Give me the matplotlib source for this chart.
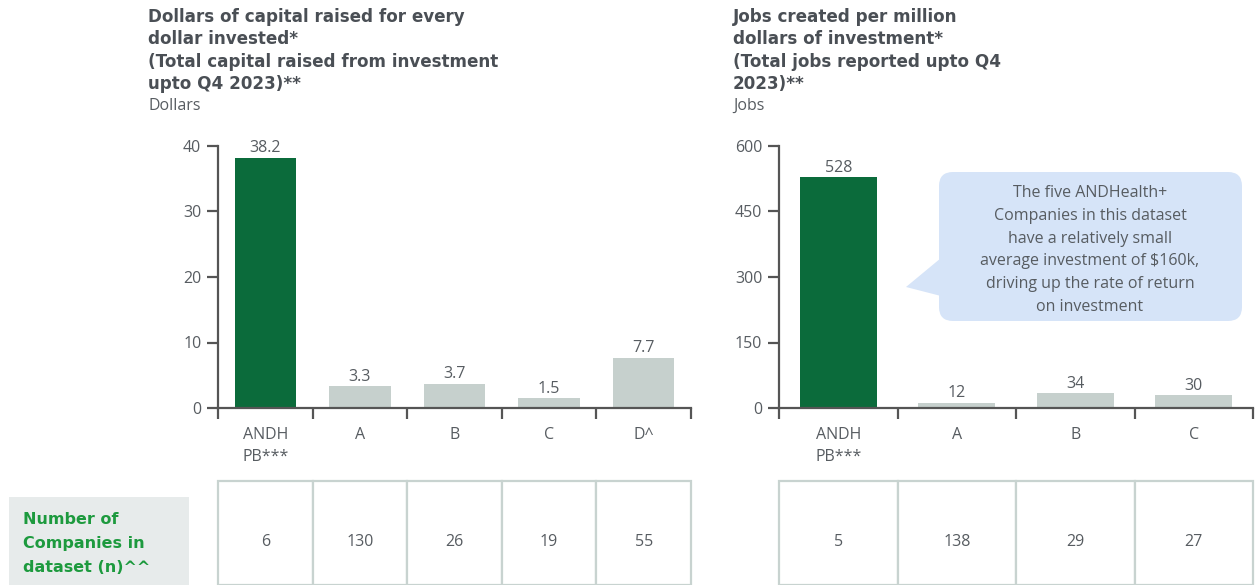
import numpy as np
import matplotlib.pyplot as plt
from matplotlib.patches import FancyBboxPatch, Polygon, Rectangle

# dados dos dois graficos
cats_left = ['ANDH\nPB***', 'A', 'B', 'C', 'D^']
vals_left = [38.2, 3.3, 3.7, 1.5, 7.7]
n_left = [6, 130, 26, 19, 55]

cats_right = ['ANDH\nPB***', 'A', 'B', 'C']
vals_right = [528, 12, 34, 30]
n_right = [5, 138, 29, 27]

title_left = ['Dollars of capital raised for every', 'dollar invested*',
              '(Total capital raised from investment', 'upto Q4 2023)**']
unit_left = 'Dollars'
title_right = ['Jobs created per million', 'dollars of investment*',
               '(Total jobs reported upto Q4', '2023)**']
unit_right = 'Jobs'
note = ['The five ANDHealth+', 'Companies in this dataset', 'have a relatively small',
        'average investment of $160k,', 'driving up the rate of return', 'on investment']
row_label = ['Number of', 'Companies in', 'dataset (n)^^']

GREEN = '#0b6b3b'
GREY_BAR = '#c6d0cd'
TXT = '#575c61'
SPINE = '#555555'
FS = 11.5
BOLD_FONT = ['DejaVu Sans']

plt.rcParams['font.family'] = ['Open Sans', 'DejaVu Sans']

W, H = 1255, 585
fig = plt.figure(figsize=(W / 100, H / 100), dpi=100)


def box(x0, x1, ytop, ybot):
    # pixel -> figure fraction
    return [x0 / W, 1 - ybot / H, (x1 - x0) / W, (ybot - ytop) / H]


def bar_panel(rect, cats, vals, ymax, yticks, fmt):
    ax = fig.add_axes(rect)
    x = np.arange(len(cats))
    colors = [GREEN] + [GREY_BAR] * (len(cats) - 1)
    ax.bar(x, vals, width=0.65, color=colors)
    for xi, v in zip(x, vals):
        ax.annotate(fmt(v), (xi, v), xytext=(0, 1), textcoords='offset points',
                    ha='center', va='bottom', fontsize=FS, color=TXT)
    ax.set_xlim(-0.5, len(cats) - 0.5)
    ax.set_ylim(0, ymax)
    ax.set_yticks(yticks)
    ax.set_xticks(x)
    ax.set_xticklabels(cats)
    for lb in ax.get_xticklabels():
        lb.set_linespacing(1.45)
    ax.set_xticks(np.arange(len(cats) + 1) - 0.5, minor=True)
    ax.tick_params(axis='x', which='major', length=0, pad=14, labelsize=FS, labelcolor=TXT)
    ax.tick_params(axis='x', which='minor', length=8, width=1.6, color=SPINE)
    ax.tick_params(axis='y', length=8, width=1.6, color=SPINE, pad=4, labelsize=FS, labelcolor=TXT)
    for s in ['top', 'right']:
        ax.spines[s].set_visible(False)
    for s in ['left', 'bottom']:
        ax.spines[s].set_color(SPINE)
        ax.spines[s].set_linewidth(1.6)
    ax.patch.set_alpha(0)
    return ax


bar_panel(box(218, 691, 146, 408), cats_left, vals_left, 40, [0, 10, 20, 30, 40],
          lambda v: f'{v:.1f}')
bar_panel(box(779, 1253, 146, 408), cats_right, vals_right, 600, [0, 150, 300, 450, 600],
          lambda v: f'{v:.0f}')


def n_table(rect, counts):
    ax = fig.add_axes(rect)
    ax.set_xlim(-0.5, len(counts) - 0.5)
    ax.set_ylim(0, 1)
    ax.axis('off')
    for i, c in enumerate(counts):
        ax.add_patch(Rectangle((i - 0.5, 0), 1, 1.2, facecolor='white',
                               edgecolor='#c8d3d0', linewidth=1.6, clip_on=False))
        ax.text(i, 0.5, str(c), ha='center', va='center', fontsize=FS, color=TXT)


n_table(box(218, 691, 498, 585), n_left)
n_table(box(779, 1253, 498, 585), n_right)

# camada em pixels para titulos, rotulo da tabela e balao
ov = fig.add_axes([0, 0, 1, 1])
ov.set_xlim(0, W)
ov.set_ylim(H, 0)
ov.axis('off')
ov.patch.set_alpha(0)


def lines(x, y0, step, txts, size=FS, **kw):
    # uma linha por vez pra controlar o espacamento
    for i, t in enumerate(txts):
        ov.text(x, y0 + i * step, t, va='center', fontsize=size, **kw)


lines(148, 17, 22.3, title_left, size=12.1, ha='left', fontweight='bold', color='#4a4f55',
      family=BOLD_FONT)
ov.text(148, 106, unit_left, ha='left', va='center', fontsize=FS, color=TXT)
lines(733, 17, 22.3, title_right, size=12.1, ha='left', fontweight='bold', color='#4a4f55',
      family=BOLD_FONT)
ov.text(733, 106, unit_right, ha='left', va='center', fontsize=FS, color=TXT)

ov.add_patch(Rectangle((9, 497), 180, 95, facecolor='#e7ebeb', edgecolor='none'))
lines(23, 520, 23.5, row_label, ha='left', fontweight='bold', color='#1d9a3e', family=BOLD_FONT)

BLUE = '#d6e4f8'
ov.add_patch(FancyBboxPatch((939, 172), 303, 149, boxstyle='round,pad=0,rounding_size=14',
                            facecolor=BLUE, edgecolor='none'))
ov.add_patch(Polygon([[941, 258], [906, 287], [941, 296]], closed=True,
                     facecolor=BLUE, edgecolor='none'))
lines(1090, 193, 22.8, note, ha='center', color=TXT)

plt.savefig('out.png', dpi=100)
